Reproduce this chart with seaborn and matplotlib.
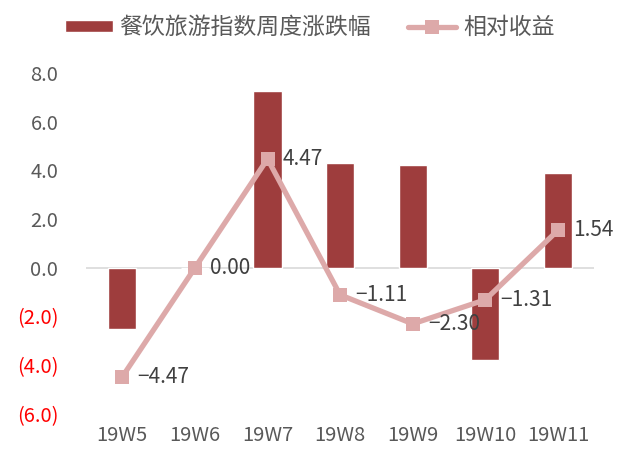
import matplotlib
matplotlib.use("Agg")
import matplotlib.pyplot as plt
import seaborn as sns
import pandas as pd
from matplotlib.patches import Patch
from matplotlib.lines import Line2D

weeks = ["19W5", "19W6", "19W7", "19W8", "19W9", "19W10", "19W11"]
index_change = [-2.50, 0.0, 7.25, 4.30, 4.22, -3.77, 3.90]
relative_return = [-4.47, 0.00, 4.47, -1.11, -2.30, -1.31, 1.54]
y_ticks = [-6, -4, -2, 0, 2, 4, 6, 8]

sns.set_theme(style="white")
plt.rcParams["font.family"] = ["Noto Sans CJK SC", "DejaVu Sans"]

bar_color = "#9E3D3D"
line_color = "#DDA9A9"
text_color = "#595959"

df = pd.DataFrame({"week": weeks, "change": index_change, "rel": relative_return})

fig = plt.figure(figsize=(6.19, 4.5), dpi=100)
ax = fig.add_axes([0.139, 0.08, 0.821, 0.758])

sns.barplot(data=df, x="week", y="change", color=bar_color, width=0.39,
            saturation=1, ax=ax, zorder=2)
ax.axhline(0, color="#D9D9D9", lw=1.2, zorder=1)
sns.lineplot(data=df, x="week", y="rel", color=line_color, lw=3.8, marker="s",
             markersize=10, markeredgewidth=0, sort=False, ax=ax, zorder=3)

for i, v in enumerate(relative_return):
    ax.annotate(f"{v:.2f}".replace("-", "−"), (i, v), xytext=(11, 0),
                textcoords="offset points", ha="left", va="center",
                fontsize=15, color="#404040", zorder=4)

ax.set_ylim(-6, 8)
ax.set_xlim(-0.5, 6.5)
ax.set_yticks(y_ticks)
labels = []
for t in y_ticks:
    labels.append(f"({abs(t):.1f})" if t < 0 else f"{t:.1f}")
ax.set_yticklabels(labels)
for lab, t in zip(ax.get_yticklabels(), y_ticks):
    lab.set_color("red" if t < 0 else text_color)
    lab.set_fontsize(14.5)
for lab in ax.get_xticklabels():
    lab.set_color(text_color)
    lab.set_fontsize(14.5)
ax.tick_params(axis="y", pad=20, length=0)
ax.tick_params(axis="x", pad=8, length=0)
ax.set_xlabel("")
ax.set_ylabel("")
sns.despine(ax=ax, left=True, bottom=True)

handles = [
    Patch(facecolor=bar_color, label="餐饮旅游指数周度涨跌幅"),
    Line2D([0], [0], color=line_color, lw=3.8, marker="s", markersize=10,
           markeredgewidth=0, label="相对收益"),
]
fig.legend(handles=handles, loc="upper center", bbox_to_anchor=(0.5, 1.01),
           ncol=2, frameon=False, fontsize=16.5, handlelength=2.1,
           handleheight=0.45, columnspacing=1.6, handletextpad=0.3,
           labelcolor=text_color)

fig.savefig("out.png", dpi=100)
